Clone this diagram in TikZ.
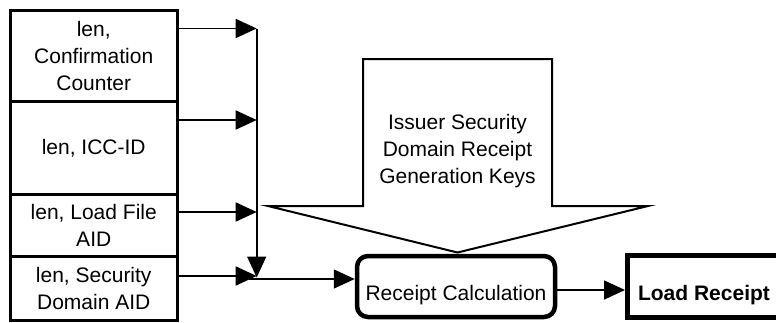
\documentclass[tikz,border=0pt]{standalone}
\usepackage{fontspec}
\setmainfont{Liberation Sans}
\usetikzlibrary{arrows.meta}
\begin{document}
\begin{tikzpicture}[x=1pt,y=-1pt,
  txt/.style={font=\fontsize{21pt}{27pt}\selectfont, align=center},
  inbox/.style={txt, draw, line width=3pt, minimum width=166.5pt, inner sep=0pt, outer sep=0pt},
  arr/.style={line width=1.6pt, -{Triangle[length=21pt,width=19pt]}},
  calcbox/.style={txt, draw, line width=4.5pt, rounded corners=11pt, minimum width=198pt, minimum height=61pt, inner sep=0pt, text height=27pt, text depth=0pt},
  outbox/.style={txt, draw, line width=5pt, minimum width=153pt, minimum height=62pt, inner sep=0pt, text height=27pt, text depth=0pt, font=\fontsize{21pt}{27pt}\selectfont\bfseries}
]
\clip (0,0) rectangle (776,322);
\fill[white] (0,0) rectangle (776,322);

% input boxes
\node[inbox, minimum height=91pt] (b1) at (93.75,55.5) {len,\\Confirmation\\Counter};
\node[inbox, minimum height=93.5pt] (b2) at (93.75,147.75) {len, ICC-ID};
\node[inbox, minimum height=62pt] (b3) at (93.75,225.5) {len, Load File\\AID};
\node[inbox, minimum height=63.5pt] (b4) at (93.75,288.25) {len, Security\\Domain AID};

% bus coordinates
\coordinate (j1) at (256.7,28.5);
\coordinate (j2) at (256.7,120);
\coordinate (j3) at (256.7,212);
\coordinate (j4) at (256.7,276);
\coordinate (jd) at (256.7,277.5);
\coordinate (h0) at (249,279);

\draw[arr] (b1.east |- j1) -- (j1);
\draw[arr] (b2.east |- j2) -- (j2);
\draw[arr] (b3.east |- j3) -- (j3);
\draw[arr] (b4.east |- j4) -- (j4);
\draw[arr] (j1) -- (jd);

% receipt calculation
\node[calcbox] (rc) at (456,286.5) {Receipt Calculation};
\draw[arr] (h0) -- (rc.west |- h0);

% load receipt
\node[outbox] (lr) at (704,286.5) {Load Receipt};
\coordinate (a5) at (557,290);
\draw[arr] (a5) -- (lr.west |- a5);

% callout arrow shape
\draw[line width=2pt, line join=miter] (363,59) -- (552,59) -- (552,206) -- (648,206) -- (457.5,252.5) -- (268,206) -- (363,206) -- cycle;
\node[txt, inner sep=0pt] (keys) at (457.5,151.5) {Issuer Security\\Domain Receipt\\Generation Keys};
\end{tikzpicture}
\end{document}
